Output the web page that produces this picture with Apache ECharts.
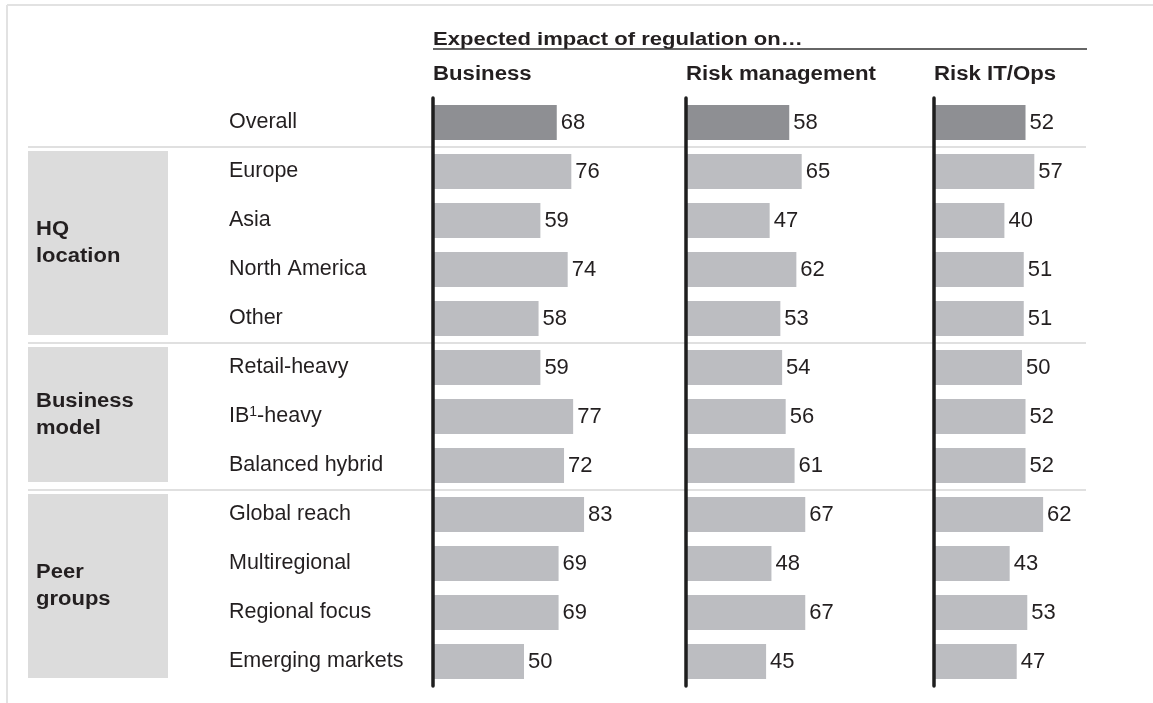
<!DOCTYPE html>
<html><head><meta charset="utf-8">
<script src="https://cdn.jsdelivr.net/npm/echarts@6/dist/echarts.min.js"></script>
<style>html,body{margin:0;padding:0;background:#fff}#c{width:1153px;height:703px}</style>
</head><body><div id="c"></div>
<script>
// ---- data ----
const categories = ['Overall','Europe','Asia','North America','Other','Retail-heavy','IB¹-heavy','Balanced hybrid','Global reach','Multiregional','Regional focus','Emerging markets'];
const business = [68,76,59,74,58,59,77,72,83,69,69,50];
const riskManagement = [58,65,47,62,53,54,56,61,67,48,67,45];
const riskITOps = [52,57,40,51,51,50,52,52,62,43,53,47];
const panelTitles = ['Business','Risk management','Risk IT/Ops'];
const headerTitle = 'Expected impact of regulation on…';
const groupNames = ['HQ\nlocation','Business\nmodel','Peer\ngroups'];
const groupFirstRow = [1,5,8];
const groupLastRow = [4,7,11];

// ---- layout ----
const FONT = '"Liberation Sans", Arial, sans-serif';
const TXT = '#231f20';
const gridTop = 98, gridH = 588, rowH = gridH / categories.length;
const panels = [
  {left:433, width:182, data:business},
  {left:686, width:178, data:riskManagement},
  {left:934, width:176, data:riskITOps}
];
const darkBar = '#8e8f93', lightBar = '#bcbdc1';

const grid = [], xAxis = [], yAxis = [], series = [];
panels.forEach((p,i)=>{
  grid.push({left:p.left, top:gridTop, width:p.width, height:gridH});
  xAxis.push({gridIndex:i, type:'value', min:0, max:100, show:false});
  yAxis.push({
    gridIndex:i, type:'category', inverse:true, data:categories, z:5,
    axisLine:{show:true, lineStyle:{color:'#1e1e1e', width:3.5, cap:'round'}},
    axisTick:{show:false}, splitLine:{show:false},
    axisLabel: i===0 ? {
      show:true, align:'left', margin:204, color:TXT, fontFamily:FONT, fontSize:21.5,
      formatter: v => v.replace('¹','{sup|1}'),
      rich:{sup:{fontSize:14, color:TXT, fontFamily:FONT, verticalAlign:'top', padding:[0,0,6,0]}}
    } : {show:false}
  });
  series.push({
    type:'bar', xAxisIndex:i, yAxisIndex:i, barWidth:35, silent:true,
    data: p.data.map((v,k)=>({value:v, itemStyle:{color: k===0?darkBar:lightBar}})),
    label:{show:true, position:'right', distance:4, color:TXT, fontFamily:FONT, fontSize:22}
  });
});

const graphic = [];
// frame
graphic.push({type:'line', shape:{x1:7,y1:5,x2:1153,y2:5}, style:{stroke:'#e2e2e2', lineWidth:2}, silent:true});
graphic.push({type:'line', shape:{x1:7,y1:5,x2:7,y2:703}, style:{stroke:'#e2e2e2', lineWidth:2}, silent:true});
// separators
groupFirstRow.forEach(r=>{
  const y = gridTop + r*rowH;
  graphic.push({type:'line', z:-1, shape:{x1:28,y1:y,x2:1086,y2:y}, style:{stroke:'#e0e0e0', lineWidth:2}, silent:true});
});
// group boxes and labels
groupNames.forEach((g,i)=>{
  const y0 = gridTop + groupFirstRow[i]*rowH + 4;
  const y1 = gridTop + (groupLastRow[i]+1)*rowH - 8;
  graphic.push({type:'rect', z:-1, shape:{x:28, y:y0, width:140, height:y1-y0}, style:{fill:'#dcdcdc'}, silent:true});
  graphic.push({type:'text', x:36, y:(y0+y1)/2, scaleX:1.1, style:{text:g, fill:TXT, font:'bold 20px '+FONT, lineHeight:27, verticalAlign:'middle', align:'left'}, silent:true});
});
// header
graphic.push({type:'text', x:433, y:40, scaleX:1.16, style:{text:headerTitle, fill:TXT, font:'bold 19px '+FONT, verticalAlign:'middle', align:'left'}, silent:true});
graphic.push({type:'line', shape:{x1:433,y1:49,x2:1087,y2:49}, style:{stroke:'#333', lineWidth:1.5}, silent:true});
panels.forEach((p,i)=>{
  graphic.push({type:'text', x:p.left, y:74, scaleX:1.11, style:{text:panelTitles[i], fill:TXT, font:'bold 20px '+FONT, verticalAlign:'middle', align:'left'}, silent:true});
});

const chart = echarts.init(document.getElementById('c'), null, {renderer:'canvas'});
chart.setOption({animation:false, backgroundColor:'#fff', grid, xAxis, yAxis, series, graphic});
</script>
</body></html>
